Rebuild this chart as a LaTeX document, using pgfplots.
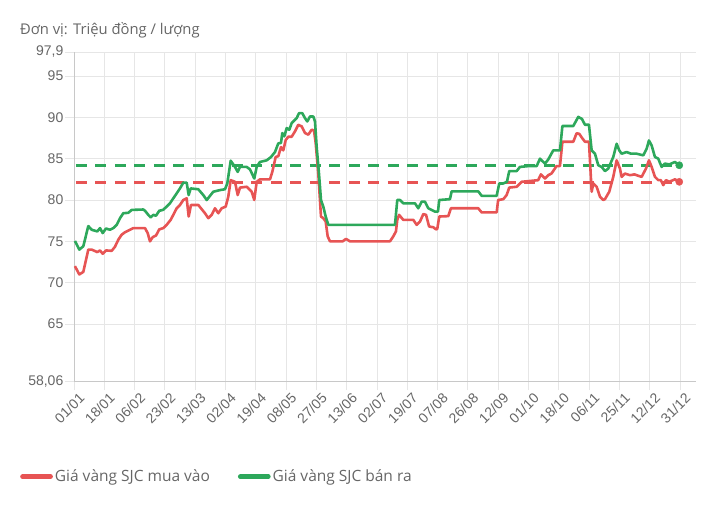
\documentclass[border=0pt]{standalone}
\usepackage{fontspec}
\setmainfont{Open Sans}
\newfontfamily\tickfont{Liberation Sans}
\usepackage{pgfplots}
\pgfplotsset{compat=1.18}
\usepackage{pgfplotstable}
\definecolor{buy}{HTML}{E75454}
\definecolor{sell}{HTML}{2DA85B}
\definecolor{gridc}{HTML}{E6E6E6}
\definecolor{axc}{HTML}{C8C8C8}
\definecolor{txt}{HTML}{666666}

\pgfplotstableread{
x y
0.03 75.05
0.175 74.0
0.307 74.4
0.472 76.85
0.584 76.4
0.769 76.2
0.858 76.6
0.947 76.0
1.056 76.55
1.188 76.4
1.297 76.6
1.409 77.0
1.518 77.8
1.627 78.4
1.792 78.45
1.904 78.8
2.287 78.85
2.343 78.7
2.452 78.2
2.531 77.9
2.617 78.2
2.706 78.1
2.815 78.7
2.937 78.8
3.059 79.2
3.168 79.6
3.277 80.2
3.389 80.8
3.498 81.4
3.607 82.1
3.719 82.1
3.785 80.6
3.851 81.4
4.102 81.3
4.267 80.6
4.380 80.0
4.597 81.0
4.818 81.2
4.983 81.3
5.059 82.0
5.172 84.75
5.314 84.0
5.403 83.4
5.479 84.0
5.700 84.0
5.809 83.7
5.950 82.6
6.030 84.0
6.139 84.6
6.360 84.8
6.502 85.2
6.634 85.8
6.743 86.85
6.832 86.9
6.875 88.1
6.941 87.7
7.020 88.7
7.106 88.5
7.185 89.3
7.350 89.9
7.426 90.5
7.535 90.5
7.624 89.9
7.700 89.5
7.789 90.1
7.898 90.1
7.954 89.5
8.010 86.4
8.086 83.2
8.152 80.0
8.228 79.2
8.307 78.0
8.393 77.0
10.594 77.0
10.670 80.0
10.759 80.0
10.868 79.6
11.254 79.6
11.363 79.0
11.475 79.8
11.584 79.8
11.693 79.0
11.805 78.8
11.914 78.6
12.013 78.6
12.056 80.0
12.409 80.1
12.465 81.05
13.343 81.05
13.455 80.5
13.950 80.5
14.036 82.0
14.168 82.0
14.290 82.2
14.366 83.5
14.611 83.5
14.719 84.0
14.993 84.1
15.271 84.1
15.380 85.0
15.545 84.4
15.653 84.9
15.818 86.0
16.04 86.0
16.12 88.95
16.479 88.95
16.644 90.05
16.766 89.8
16.865 89.1
16.997 89.1
17.086 86.0
17.195 85.6
17.304 84.2
17.416 84.0
17.525 83.5
17.634 83.8
17.799 85.2
17.911 86.8
17.997 86.0
18.076 85.6
18.241 85.8
18.383 85.6
18.571 85.6
18.789 85.4
18.901 86.2
18.977 87.2
19.066 86.6
19.175 85.2
19.284 85.0
19.396 84.0
19.505 84.4
19.647 84.3
19.835 84.6
19.977 84.2
}\sell

\pgfplotstableread{
x y
0.03 72.0
0.175 71.0
0.307 71.3
0.472 74.0
0.584 74.0
0.769 73.7
0.858 73.9
0.947 73.5
1.056 73.9
1.244 73.85
1.353 74.35
1.463 75.2
1.573 75.8
1.683 76.1
1.848 76.4
1.958 76.6
2.343 76.6
2.432 76.0
2.508 75.0
2.597 75.5
2.706 75.7
2.815 76.45
2.947 76.6
3.059 77.0
3.191 77.6
3.277 78.2
3.389 79.0
3.498 79.4
3.607 80.0
3.719 80.2
3.785 78.0
3.861 79.4
4.102 79.4
4.323 78.4
4.432 77.8
4.545 78.2
4.653 79.0
4.762 78.4
4.875 79.0
5.007 79.2
5.092 80.4
5.172 82.4
5.314 82.2
5.403 80.6
5.479 81.5
5.700 81.6
5.865 81.0
5.950 80.0
6.030 82.2
6.139 82.5
6.469 82.5
6.545 83.4
6.657 85.2
6.743 85.3
6.832 86.4
6.908 86.0
6.987 87.25
7.073 87.65
7.185 87.65
7.294 88.3
7.403 89.1
7.515 88.9
7.624 88.1
7.733 87.9
7.845 88.5
7.921 88.4
7.977 86.9
8.063 83.2
8.152 78.0
8.228 77.8
8.307 77.4
8.373 75.6
8.449 75.0
8.868 75.0
8.977 75.3
9.109 75.0
10.429 75.0
10.538 75.6
10.627 76.2
10.670 77.6
10.73 78.2
10.868 77.6
11.198 77.6
11.31 77.0
11.42 77.4
11.53 78.3
11.62 78.2
11.72 76.8
11.86 76.7
11.947 76.45
11.99 76.5
12.056 78.0
12.353 78.05
12.44 79.0
13.343 79.0
13.455 78.5
13.950 78.5
14.00 80.0
14.17 80.1
14.28 80.6
14.366 81.5
14.611 81.6
14.72 82.0
14.776 82.2
15.32 82.4
15.41 83.1
15.545 82.6
15.653 83.0
15.76 83.2
15.927 84.1
16.04 84.1
16.12 87.05
16.479 87.05
16.59 88.07
16.677 88.0
16.77 87.5
16.865 87.05
16.997 87.05
17.086 81.0
17.139 82.0
17.25 81.6
17.360 80.4
17.469 80.0
17.525 80.1
17.667 81.0
17.799 82.8
17.911 84.8
18.020 83.8
18.076 82.8
18.185 83.2
18.35 83.0
18.5 83.1
18.571 83.0
18.736 82.8
18.878 83.8
18.977 84.8
19.066 84.0
19.175 82.8
19.284 82.4
19.37 82.4
19.449 81.8
19.538 82.4
19.647 82.2
19.835 82.5
19.977 82.2
}\buy

\begin{document}
\begin{tikzpicture}
\useasboundingbox (0pt,0pt) rectangle (709pt,512pt);
\node[anchor=west, text=txt, inner sep=0pt, font=\fontsize{14.8}{16}\selectfont] at (20pt,482pt) {Đơn vị: Triệu đồng / lượng};
\begin{axis}[
  at={(74pt,130.6pt)}, anchor=south west,
  scale only axis, width=622pt, height=329.4pt,
  xmin=0, xmax=20.53, ymin=58.06, ymax=97.9,
  axis lines*=left,
  axis line style={axc, line width=0.9pt},
  xtick={0,...,20},
  xticklabels={01/01,18/01,06/02,23/02,13/03,02/04,19/04,08/05,27/05,13/06,02/07,19/07,07/08,26/08,12/09,01/10,18/10,06/11,25/11,12/12,31/12},
  ytick={58.06,65,70,75,80,85,90,95,97.9},
  yticklabels={{58,06},65,70,75,80,85,90,95,{97,9}},
  grid=major,
  major grid style={gridc, line width=0.8pt},
  tick align=outside, major tick length=9pt,
  tick style={gridc, line width=0.8pt},
  xticklabel style={rotate=45, anchor=north east, font=\tickfont\fontsize{14}{14}\selectfont, text=txt, inner sep=1pt, xshift=3pt, yshift=-3pt},
  yticklabel style={font=\tickfont\fontsize{14}{14}\selectfont, text=txt, inner sep=1.5pt},
  clip=false,
  legend style={at={(axis description cs:-0.0868,-0.2893)}, anchor=west, draw=none, fill=none,
    legend columns=2, font=\fontsize{15.5}{17}\selectfont, text=txt, inner sep=0pt,
    /tikz/every even column/.append style={column sep=26pt}},
  legend cell align=left,
  legend image code/.code={\draw[#1, line width=4.7pt, line cap=round] (0pt,0pt) -- (28pt,0pt);},
]
\addplot[buy, line width=2.8pt, dash pattern=on 11pt off 8.5pt, forget plot] coordinates {(0.06,82.15) (19.85,82.15)};
\addplot[sell, line width=2.8pt, dash pattern=on 11pt off 8.5pt, forget plot] coordinates {(0.06,84.2) (19.85,84.2)};
\addplot[buy, line width=2.6pt, line join=round] table[x=x,y=y] {\buy};
\addlegendentry{Giá vàng SJC mua vào}
\addplot[sell, line width=2.6pt, line join=round] table[x=x,y=y] {\sell};
\addlegendentry{Giá vàng SJC bán ra}
\addplot[buy, only marks, mark=*, mark size=3.6pt, forget plot] coordinates {(19.977,82.2)};
\addplot[sell, only marks, mark=*, mark size=3.6pt, forget plot] coordinates {(19.977,84.2)};
\end{axis}
\end{tikzpicture}
\end{document}
